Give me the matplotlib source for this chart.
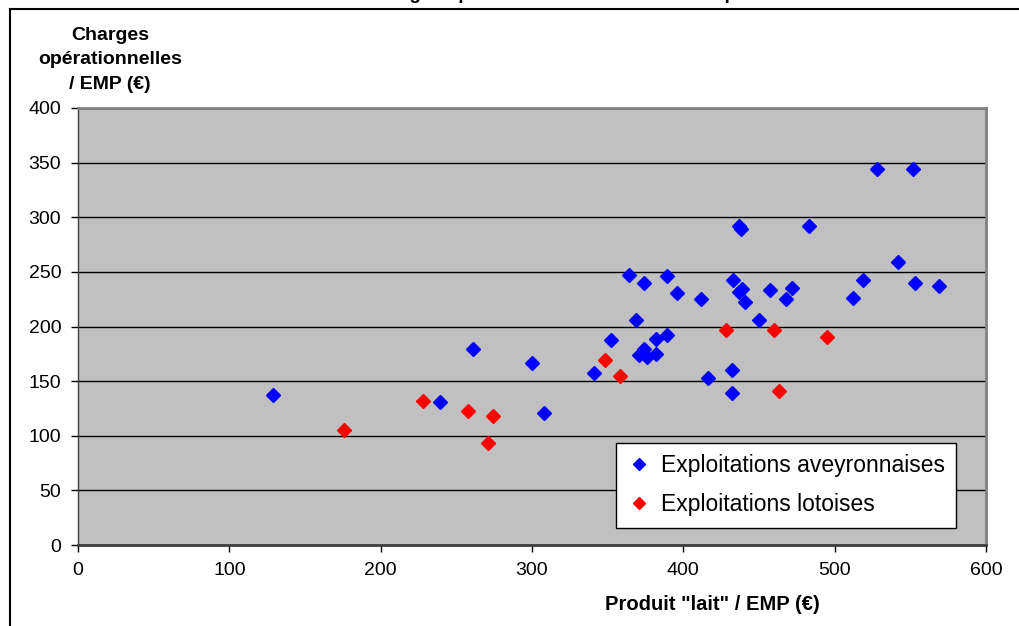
import numpy as np
import matplotlib.pyplot as plt
from matplotlib.lines import Line2D

plt.rcParams['font.family'] = ['Liberation Sans', 'DejaVu Sans']

# Exploitations aveyronnaises (blue)
avey_x = [129, 239, 261, 300, 308, 341, 352, 364, 369, 371, 374, 374, 376, 382, 382,
          389, 389, 396, 412, 416, 432, 432, 433, 437, 437, 438, 439, 441, 450, 457,
          468, 472, 483, 512, 519, 528, 542, 552, 553, 569]
avey_y = [137, 131, 179, 167, 121, 157, 188, 247, 206, 174, 179, 240, 172, 175, 189,
          192, 246, 231, 225, 153, 139, 160, 243, 232, 292, 289, 234, 222, 206, 233,
          225, 235, 292, 226, 243, 344, 259, 344, 240, 237]

# Exploitations lotoises (red)
lot_x = [176, 228, 258, 271, 274, 348, 358, 428, 460, 463, 495]
lot_y = [105, 132, 123, 93, 118, 169, 155, 197, 197, 141, 190]

x_ticks = [0, 100, 200, 300, 400, 500, 600]
y_ticks = [0, 50, 100, 150, 200, 250, 300, 350, 400]

fig = plt.figure(figsize=(10.2, 6.26), dpi=100)
ax = fig.add_axes([78 / 1020, 81 / 626, 908 / 1020, 437 / 626])
ax.set_facecolor('#C0C0C0')

ax.plot(avey_x, avey_y, 'D', color='#0000FF', markersize=7.5, linestyle='none',
        label='Exploitations aveyronnaises', zorder=3)
ax.plot(lot_x, lot_y, 'D', color='#FF0000', markersize=7.5, linestyle='none',
        label='Exploitations lotoises', zorder=3)

ax.set_xlim(0, 600)
ax.set_ylim(0, 400)
ax.set_xticks(x_ticks)
ax.set_yticks(y_ticks)
ax.tick_params(labelsize=14, direction='out', length=5, width=1, color='black', pad=7)
ax.yaxis.grid(True, color='black', linewidth=1)
ax.set_axisbelow(True)
for side in ['top', 'right']:
    ax.spines[side].set_color('#808080')
    ax.spines[side].set_linewidth(2)
ax.spines['bottom'].set_color('#404040')
ax.spines['bottom'].set_linewidth(2)
ax.spines['left'].set_color('#404040')
ax.spines['left'].set_linewidth(1)

leg = ax.legend(loc='lower right', bbox_to_anchor=(0.967, 0.04), fontsize=16.5,
                frameon=True, fancybox=False, edgecolor='black', framealpha=1,
                handlelength=1.0, handletextpad=0.45, borderpad=0.5, labelspacing=0.7,
                markerscale=0.8, borderaxespad=0)
leg.get_frame().set_linewidth(1)
leg._legend_box.align = 'left'

fig.text(110 / 1020, 1 - 60 / 626, 'Charges\nopérationnelles\n/ EMP (€)', ha='center',
         va='center', fontsize=14, fontweight='bold', linespacing=1.55)
ax.set_xlabel('Produit "lait" / EMP (€)', fontsize=14.5, fontweight='bold')
ax.xaxis.set_label_coords(0.699, -0.115)

# title, cut off at the top of the picture
fig.text(0.567, 1 + 1 / 626, 'Charges opérationnelles en fonction du produit',
         ha='center', va='baseline', fontsize=13.5, fontweight='bold')

# outer chart frame
fig.add_artist(Line2D([10 / 1020, 1.0], [1 - 9 / 626, 1 - 9 / 626],
                      transform=fig.transFigure, color='black', linewidth=1.5))
fig.add_artist(Line2D([10 / 1020, 10 / 1020], [0, 1 - 9 / 626],
                      transform=fig.transFigure, color='black', linewidth=1.5))

fig.savefig('out.png', dpi=100)
